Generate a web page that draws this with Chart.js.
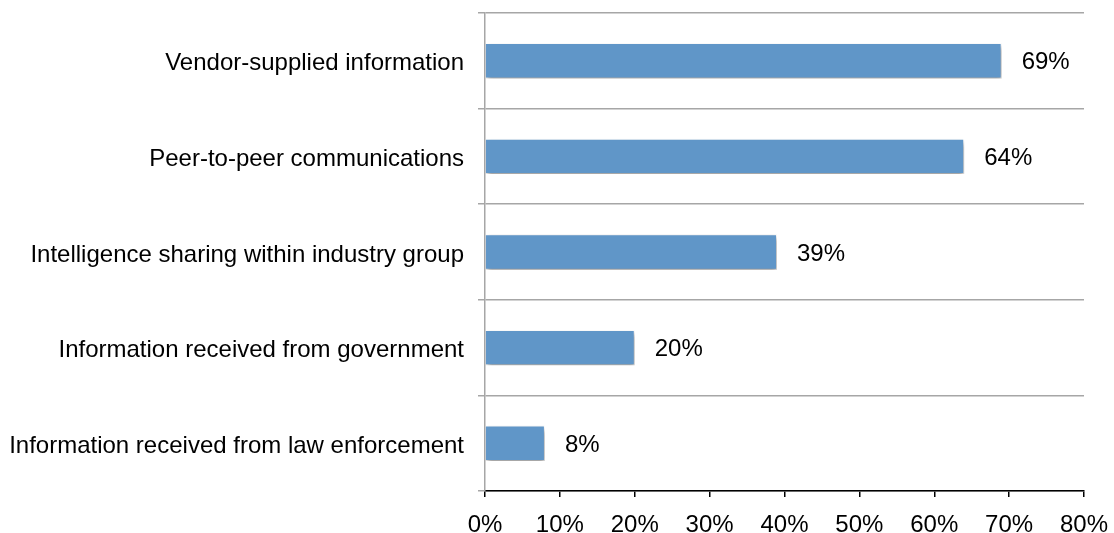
<!DOCTYPE html>
<html><head><meta charset="utf-8">
<script src="https://cdn.jsdelivr.net/npm/chart.js@4"></script>
<style>html,body{margin:0;padding:0;background:#fff}#w{width:1114px;height:533px}</style>
</head><body><div id="w"><canvas id="c"></canvas></div>
<script>
const categories = ["Vendor-supplied information","Peer-to-peer communications","Intelligence sharing within industry group","Information received from government","Information received from law enforcement"];
const values = [69,64,39,20,8];
const xTicks = ["0%","10%","20%","30%","40%","50%","60%","70%","80%"];

const FONT = {family:"'Liberation Sans', Arial, sans-serif", size:24};

const shadowPlugin = {
  id:'shadow',
  beforeDatasetsDraw(chart){const c=chart.ctx;c.save();c.shadowColor='rgba(0,0,0,0.45)';c.shadowBlur=5;c.shadowOffsetX=1;c.shadowOffsetY=3;},
  afterDatasetsDraw(chart){chart.ctx.restore();}
};
const labelPlugin = {
  id:'vlabels',
  afterDatasetsDraw(chart){
    const c=chart.ctx;const meta=chart.getDatasetMeta(0);
    c.save();c.font=FONT.size+'px '+FONT.family;c.fillStyle='#000';c.textAlign='left';c.textBaseline='middle';
    meta.data.forEach((b,i)=>{c.fillText(values[i]+'%', b.x+20, b.y+2);});
    c.restore();
  }
};

new Chart(document.getElementById('c'),{
  type:'bar',
  data:{labels:categories,datasets:[{data:values,backgroundColor:'#6096c8',borderColor:'#ffffff',borderWidth:1,barPercentage:0.37,categoryPercentage:1}]},
  options:{
    indexAxis:'y',responsive:true,maintainAspectRatio:false,animation:false,
    layout:{padding:{top:13,right:30,left:0,bottom:0}},
    plugins:{legend:{display:false},tooltip:{enabled:false}},
    scales:{
      x:{min:0,max:80,
        ticks:{stepSize:10,callback:(v,i)=>xTicks[i],color:'#000',font:FONT,padding:14,maxRotation:0},
        grid:{drawOnChartArea:false,drawTicks:true,tickLength:6,color:'#000',lineWidth:1.5},
        border:{color:'#000',width:1.5},
        afterFit(s){s.height=42;s.paddingLeft=0;s.paddingRight=0;}
      },
      y:{
        ticks:{color:'#000',font:FONT,padding:14,labelOffset:3},
        grid:{offset:true,color:'#a6a6a6',lineWidth:1.5,tickLength:7},
        border:{color:'#a6a6a6',width:1.5},
        afterFit(s){s.width=485;s.paddingTop=0;s.paddingBottom=0;}
      }
    }
  },
  plugins:[shadowPlugin,labelPlugin]
});
</script></body></html>
